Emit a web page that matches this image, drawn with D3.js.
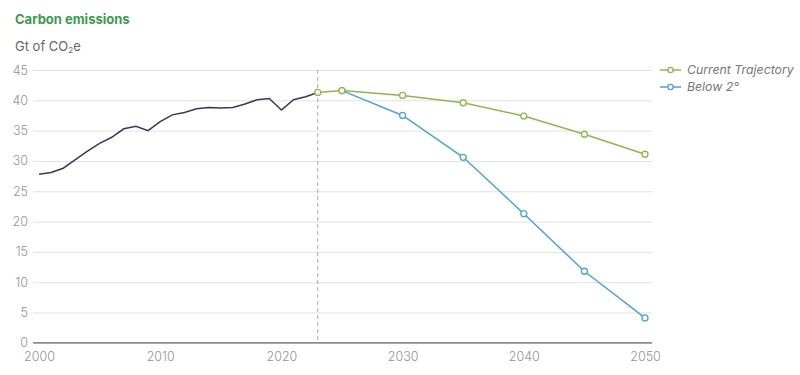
<!DOCTYPE html>
<html><head><meta charset="utf-8">
<script src="https://cdn.jsdelivr.net/npm/d3@7"></script>
<style>
body{margin:0;background:#fff;}
svg{display:block;font-family:Inter,"Noto Sans",sans-serif;}
</style></head>
<body><svg id="chart" width="800" height="375"></svg>
<script>
const histYears = [2000,2001,2002,2003,2004,2005,2006,2007,2008,2009,2010,2011,2012,2013,2014,2015,2016,2017,2018,2019,2020,2021,2022,2023];
const histValues = [27.8,28.1,28.8,30.2,31.6,32.9,33.9,35.3,35.7,35.0,36.5,37.6,38.0,38.6,38.8,38.75,38.8,39.4,40.1,40.3,38.4,40.1,40.6,41.3];
const currentYears = [2023,2025,2030,2035,2040,2045,2050];
const currentValues = [41.3,41.6,40.8,39.6,37.4,34.4,31.1];
const belowYears = [2025,2030,2035,2040,2045,2050];
const belowValues = [41.6,37.5,30.6,21.3,11.8,4.1];
const yTicks = [0,5,10,15,20,25,30,35,40,45];
const xTicks = [2000,2010,2020,2030,2040,2050];
const legendLabels = ["Current Trajectory","Below 2°"];
const dividerYear = 2023;

const colHist = "#3b3564", colCur = "#8db84c", colBelow = "#4ea3d5";
const svg = d3.select("#chart");
const x = d3.scaleLinear().domain([2000,2050]).range([39,645]);
const y = d3.scaleLinear().domain([0,45]).range([342.8,70]);

svg.append("text").attr("x",15).attr("y",24).attr("fill","#3d9a4f")
  .attr("font-size",13).attr("font-weight",700).text("Carbon emissions");
const sub = svg.append("text").attr("x",15).attr("y",51).attr("fill","#666").attr("font-size",13);
sub.append("tspan").text("Gt of CO");
sub.append("tspan").attr("font-size",8).attr("dy",2).text("2");
sub.append("tspan").attr("dy",-2).text("e");

// grid
const yAxis = d3.axisLeft(y).tickValues(yTicks).tickSize(-(652-33)).tickPadding(5);
const gy = svg.append("g").attr("transform","translate(33,0)").call(yAxis);
gy.select(".domain").remove();
gy.selectAll(".tick line").attr("stroke","#e2e2e2").attr("stroke-width",1);
gy.selectAll(".tick text").attr("fill","#939393").attr("font-size",12.5).attr("font-weight",300).attr("font-family","Inter,sans-serif").attr("x",-5);

const xAxis = d3.axisBottom(x).tickValues(xTicks).tickFormat(d3.format("d")).tickSize(0).tickPadding(9);
const gx = svg.append("g").attr("transform","translate(0,342.8)").call(xAxis);
gx.select(".domain").remove();
gx.selectAll(".tick text").attr("fill","#939393").attr("font-size",12.5).attr("font-weight",300).attr("font-family","Inter,sans-serif");
svg.append("line").attr("x1",33).attr("x2",652).attr("y1",y(0)).attr("y2",y(0)).attr("stroke","#6a6a6a").attr("stroke-width",1.2);

svg.append("line").attr("x1",x(dividerYear)).attr("x2",x(dividerYear)).attr("y1",y(45)).attr("y2",y(0))
  .attr("stroke","#aaa").attr("stroke-width",1).attr("stroke-dasharray","4,3");

const line = d3.line().x(d=>x(d[0])).y(d=>y(d[1]));
const hist = histYears.map((d,i)=>[d,histValues[i]]);
const cur = currentYears.map((d,i)=>[d,currentValues[i]]);
const below = belowYears.map((d,i)=>[d,belowValues[i]]);

svg.append("path").datum(hist).attr("d",line).attr("fill","none").attr("stroke",colHist).attr("stroke-width",1.5);
svg.append("path").datum(below).attr("d",line).attr("fill","none").attr("stroke",colBelow).attr("stroke-width",1.5);
svg.append("path").datum(cur).attr("d",line).attr("fill","none").attr("stroke",colCur).attr("stroke-width",1.5);
svg.selectAll(".mb").data(below).enter().append("circle").attr("cx",d=>x(d[0])).attr("cy",d=>y(d[1])).attr("r",3)
  .attr("fill","#fff").attr("stroke",colBelow).attr("stroke-width",1.3);
svg.selectAll(".mc").data(cur).enter().append("circle").attr("cx",d=>x(d[0])).attr("cy",d=>y(d[1])).attr("r",3)
  .attr("fill","#fff").attr("stroke",colCur).attr("stroke-width",1.3);

const lg = svg.append("g");
[colCur,colBelow].forEach((c,i)=>{
  const yy = 70 + i*17;
  lg.append("line").attr("x1",660).attr("x2",681).attr("y1",yy).attr("y2",yy).attr("stroke",c).attr("stroke-width",1.5);
  lg.append("circle").attr("cx",670.5).attr("cy",yy).attr("r",2.6).attr("fill","#fff").attr("stroke",c).attr("stroke-width",1.3);
  lg.append("text").attr("x",687).attr("y",yy+4.3).attr("fill","#777").attr("font-size",12.3).attr("font-style","italic").text(legendLabels[i]);
});
</script></body></html>
